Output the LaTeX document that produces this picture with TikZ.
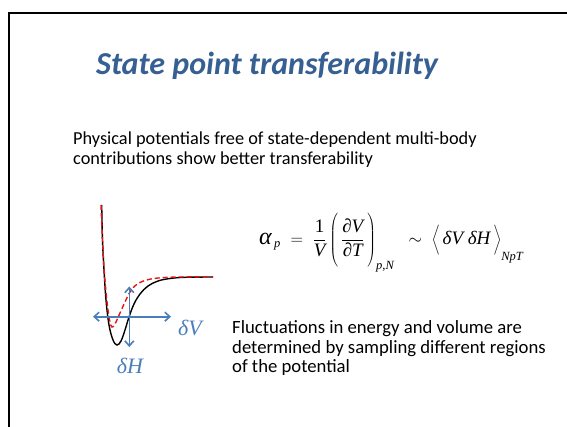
\documentclass[tikz,border=0pt]{standalone}
\usepackage{fontspec}
\setmainfont{Carlito}
\newfontfamily\tms{Liberation Serif}
\usetikzlibrary{arrows.meta}
\definecolor{titleblue}{RGB}{55,96,146}
\definecolor{arrowblue}{RGB}{74,126,187}
\definecolor{curvered}{RGB}{230,20,20}
\newcommand\tv[1]{\hbox{\tms\itshape #1}}
\newcommand\tsub[1]{\hbox{\tms\itshape\fontsize{12.5}{12.5}\selectfont #1}}
\newcommand\tallstrut[1]{\vcenter{\hbox{\rule{0pt}{#1}}}}
\begin{document}
\begin{tikzpicture}[x=1pt,y=-1pt,
  bodytext/.style={anchor=base west,inner sep=0pt,font=\fontsize{18.7}{20}\selectfont},
  blueaxis/.style={draw=arrowblue,line width=1.6pt,{Straight Barb[length=5pt,width=9pt]}-{Straight Barb[length=5pt,width=9pt]}},
  bluelabel/.style={text=arrowblue,inner sep=0pt,font=\fontsize{22}{24}\selectfont\tms\itshape}]
\useasboundingbox (0,0) rectangle (567,427);
\draw[line width=2pt] (9,427) -- (9,13) -- (567,13);
\node[anchor=base,inner sep=0pt,text=titleblue,font=\fontsize{32}{36}\selectfont\bfseries\itshape] (title) at (267,75) {State point transferability};
\node[bodytext,font=\fontsize{18.3}{20}\selectfont] (intro1) at (73,145) {Physical potentials free of state-dependent multi-body};
\node[bodytext,font=\fontsize{18.3}{20}\selectfont] (intro2) at (73,164.3) {contributions show better transferability};
\node[anchor=west,inner sep=0pt,font=\fontsize{19}{22}\selectfont] (eq) at (259,242)
  {$\displaystyle \hbox{\tms\itshape\fontsize{24}{24}\selectfont α}_{\,\tsub{p}}
   \;=\; \frac{\hbox{\tms 1}}{\tv{V}}
   \left(\tallstrut{56pt}\,\frac{\tv{∂V}}{\tv{∂T}}\,\right)_{\tsub{p,N}}
   \;\;\sim\;
   \left\langle\tallstrut{38pt}\,\tv{δV δH}\,\right\rangle_{\tsub{NpT}}$};
\node[bodytext] (fl1) at (232,333.3) {Fluctuations in energy and volume are};
\node[bodytext] (fl2) at (232,353) {determined by sampling different regions};
\node[bodytext] (fl3) at (232,372.7) {of the potential};
% potentials
\draw[line width=1.4pt] plot[smooth,tension=0.6] coordinates {(101.7,205) (102.5,240) (104,270) (106,300) (109,325) (113,340) (117,345) (121,341) (125,330) (129,317) (134,304) (140,294) (148,286) (158,281) (170,278.5) (185,277.3) (213,277)};
\draw[curvered,line width=1.4pt,dash pattern=on 5pt off 3pt] plot[smooth,tension=0.6] coordinates {(101,205) (102.5,240) (104,268) (106,292) (108,310) (110,322) (112,327) (115,324) (120,313) (125,302) (130,292) (136,285) (145,280.5) (158,278) (180,277) (213,277)};
% axes
\coordinate (hl) at (93,316.7);
\coordinate (hr) at (171,316.7);
\coordinate (vt) at (129.3,286.5);
\coordinate (vb) at (129.3,347);
\draw[blueaxis] (hl) -- (hr);
\draw[blueaxis] (vt) -- (vb);
\node[bluelabel] (dV) at (190,328) {δV};
\node[bluelabel] (dH) at (130,366) {δH};
\end{tikzpicture}
\end{document}
